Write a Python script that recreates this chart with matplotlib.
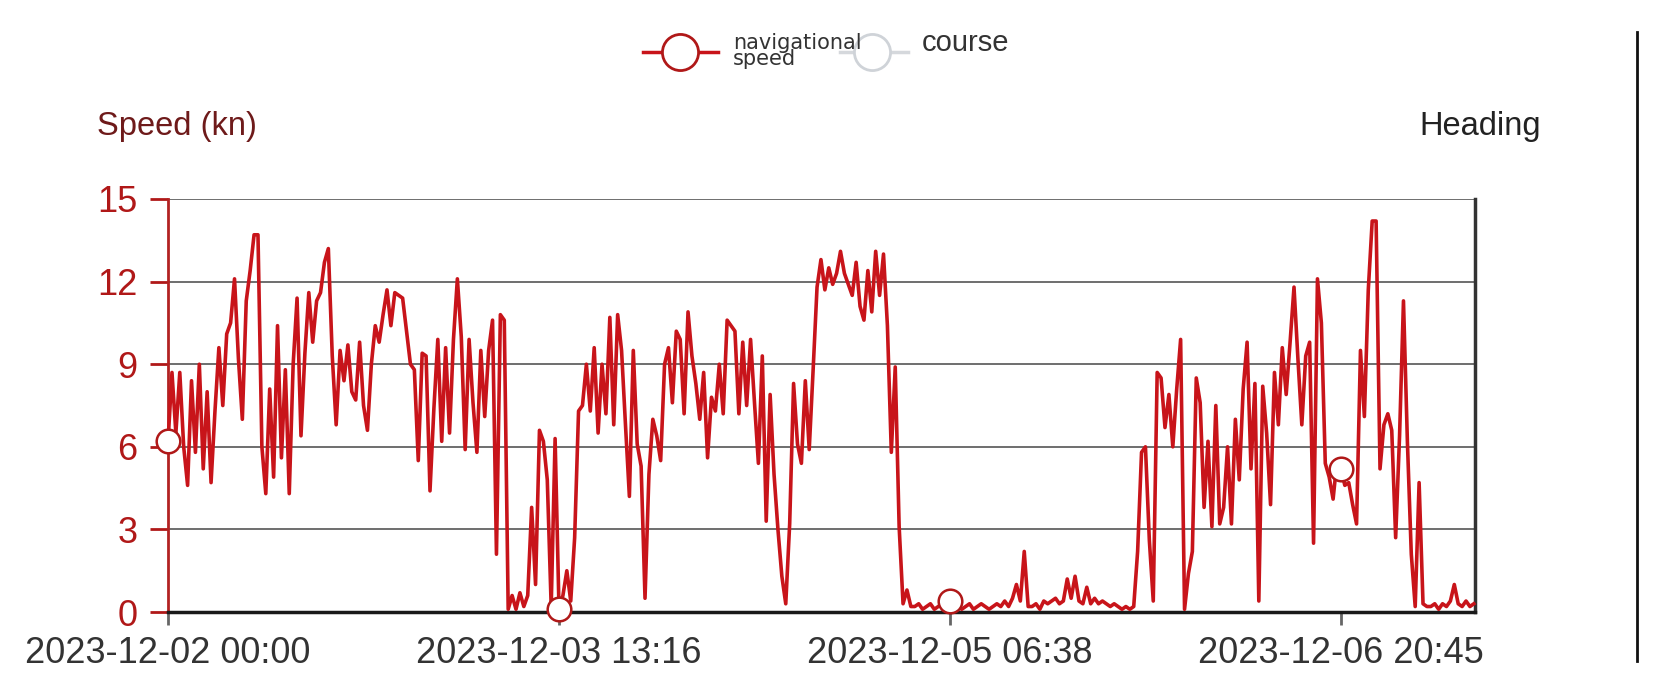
import matplotlib
matplotlib.use("Agg")
import matplotlib.pyplot as plt
from matplotlib.lines import Line2D

plt.rcParams["font.family"] = ["Liberation Sans", "DejaVu Sans"]

# category labels shown on the x axis (one every 100 samples)
tick_labels = ["2023-12-02 00:00", "2023-12-03 13:16", "2023-12-05 06:38", "2023-12-06 20:45"]
tick_step = 100

# navigational speed in knots, one value per sample
speed_day1 = [
    6.2, 8.7, 6.5, 8.7, 6.0, 4.6, 8.4, 5.8, 9.0, 5.2,
    8.0, 4.7, 7.3, 9.6, 7.5, 10.1, 10.5, 12.1, 9.2, 7.0,
    11.3, 12.4, 13.7, 13.7, 6.0, 4.3, 8.1, 4.9, 10.4, 5.6,
    8.8, 4.3, 9.0, 11.4, 6.4, 9.4, 11.6, 9.8, 11.3, 11.6,
    12.7, 13.2, 9.3, 6.8, 9.5, 8.4, 9.7, 8.0, 7.7, 9.8,
    7.5, 6.6, 9.0, 10.4, 9.8, 10.8, 11.7, 10.4, 11.6, 11.5,
    11.4, 10.2, 9.0, 8.8, 5.5, 9.4,
]
speed_day2 = [
    9.3, 4.4, 7.4, 9.9, 6.2, 9.6, 6.5, 9.9, 12.1, 10.0,
    5.9, 9.9, 7.6, 5.8, 9.5, 7.1, 9.5, 10.6, 2.1, 10.8,
    10.6, 0.1, 0.6, 0.1, 0.7, 0.2, 0.6, 3.8, 1.0, 6.6,
    6.2, 4.8, 0.2, 6.3, 0.1, 0.6, 1.5, 0.4, 2.7, 7.3,
    7.5, 9.0, 7.3, 9.6, 6.5, 9.0, 7.2, 10.7, 6.8, 10.8,
    9.5, 6.8, 4.2, 9.5, 6.1, 5.3, 0.5, 5.0, 7.0, 6.4,
    5.5, 9.0, 9.6, 7.6, 10.2, 9.9, 7.2, 10.9, 9.3,
]
speed_day3 = [
    8.3, 7.0, 8.7, 5.6, 7.8, 7.3, 9.0, 7.2, 10.6, 10.4,
    10.2, 7.2, 9.8, 7.5, 9.9, 7.6, 5.4, 9.3, 3.3, 7.9,
    5.0, 3.0, 1.3, 0.3, 3.2, 8.3, 6.1, 5.4, 8.4, 5.9,
    8.8, 11.8, 12.8, 11.7, 12.5, 11.9, 12.3, 13.1, 12.3, 11.9,
    11.5, 12.7, 11.1, 10.6, 12.4, 10.9, 13.1, 11.5, 13.0, 10.4,
    5.8, 8.9, 3.1, 0.3, 0.8, 0.2, 0.2, 0.3, 0.1, 0.2,
    0.3, 0.1, 0.2, 0.3, 0.2, 0.4,
]
speed_day4 = [
    0.2, 0.3, 0.1, 0.2, 0.3, 0.1, 0.2, 0.3, 0.2, 0.1,
    0.2, 0.3, 0.2, 0.4, 0.2, 0.5, 1.0, 0.4, 2.2, 0.2,
    0.2, 0.3, 0.1, 0.4, 0.3, 0.4, 0.5, 0.3, 0.4, 1.2,
    0.5, 1.3, 0.4, 0.3, 0.9, 0.3, 0.5, 0.3, 0.4, 0.3,
    0.2, 0.3, 0.2, 0.1, 0.2, 0.1, 0.2, 2.2, 5.8, 6.0,
    2.6, 0.4, 8.7, 8.5, 6.7, 7.9, 6.0, 8.1, 9.9, 0.1,
    1.4, 2.2, 8.5, 7.6, 3.8, 6.2, 3.1, 7.5,
]
speed_day5 = [
    3.2, 3.8, 6.0, 3.2, 7.0, 4.8, 8.1, 9.8, 5.2, 8.3,
    0.4, 8.2, 6.5, 3.9, 8.7, 6.8, 9.6, 7.9, 9.8, 11.8,
    9.2, 6.8, 9.3, 9.8, 2.5, 12.1, 10.5, 5.4, 4.9, 4.1,
    5.5, 5.2, 4.6, 4.7, 3.9, 3.2, 9.5, 7.1, 11.7, 14.2,
    14.2, 5.2, 6.8, 7.2, 6.6, 2.7, 6.4, 11.3, 6.2, 2.1,
    0.2, 4.7, 0.3, 0.2, 0.2, 0.3, 0.1, 0.3, 0.2, 0.4,
    1.0, 0.3, 0.2, 0.4, 0.2, 0.3,
]

speed = speed_day1 + speed_day2 + speed_day3 + speed_day4 + speed_day5
x = list(range(len(speed)))
ticks = [i * tick_step for i in range(len(tick_labels))]

RED = "#c8141a"

fig = plt.figure(figsize=(16.59, 6.90), dpi=100)
ax = fig.add_axes([0.1013, 0.1130, 0.7878, 0.5986])

ax.plot(x, speed, color=RED, linewidth=2.6, zorder=3, clip_on=False,
        marker="o", markevery=ticks, markersize=17, markerfacecolor="white",
        markeredgecolor="#b01818", markeredgewidth=1.8)

ax.set_xlim(0, 334.3)
ax.set_ylim(0, 15)
ax.set_yticks([0, 3, 6, 9, 12, 15])
ax.set_xticks(ticks)
ax.set_xticklabels(tick_labels)

ax.grid(axis="y", color="#555555", linewidth=1.2, zorder=1)
ax.spines["top"].set_visible(False)
ax.spines["left"].set_color("#b22222")
ax.spines["left"].set_linewidth(2)
ax.spines["bottom"].set_color("#1a1a1a")
ax.spines["bottom"].set_linewidth(2.5)
ax.spines["right"].set_color("#333333")
ax.spines["right"].set_linewidth(2.5)

ax.tick_params(axis="y", colors="#b01818", labelsize=26, length=13, width=2, pad=9)
ax.tick_params(axis="x", colors="#666666", labelcolor="#333333", labelsize=26,
               length=9, width=2, pad=8)

# axis names
fig.text(177 / 1659, 1 - 127 / 690, "Speed (kn)", color="#6e1a1a", fontsize=23.5,
         ha="center", va="center")
fig.text(1480 / 1659, 1 - 126 / 690, "Heading", color="#222222", fontsize=23.5,
         ha="center", va="center")

# legend drawn by hand
ly = 1 - 52 / 690
fig.add_artist(Line2D([643 / 1659, 718 / 1659], [ly, ly], color=RED, linewidth=2.5))
fig.add_artist(Line2D([680 / 1659], [ly], marker="o", markersize=26, markerfacecolor="white",
                      markeredgecolor="#b01818", markeredgewidth=2))
fig.add_artist(Line2D([840 / 1659, 908 / 1659], [ly, ly], color="#d5d8dc", linewidth=2.5))
fig.add_artist(Line2D([872 / 1659], [ly], marker="o", markersize=26, markerfacecolor="white",
                      markeredgecolor="#cfd3d8", markeredgewidth=2))
fig.text(733 / 1659, 1 - 51 / 690, "navigational\nspeed", color="#333333", fontsize=15,
         family=["DejaVu Sans"], ha="left", va="center", linespacing=0.75)
fig.text(922 / 1659, 1 - 43 / 690, "course", color="#333333", fontsize=21,
         ha="left", va="center")

# stray separator line at the right edge
fig.add_artist(Line2D([1637 / 1659, 1637 / 1659], [1 - 32 / 690, 1 - 661 / 690],
                      color="#111111", linewidth=2))

fig.savefig("out.png", dpi=100)
